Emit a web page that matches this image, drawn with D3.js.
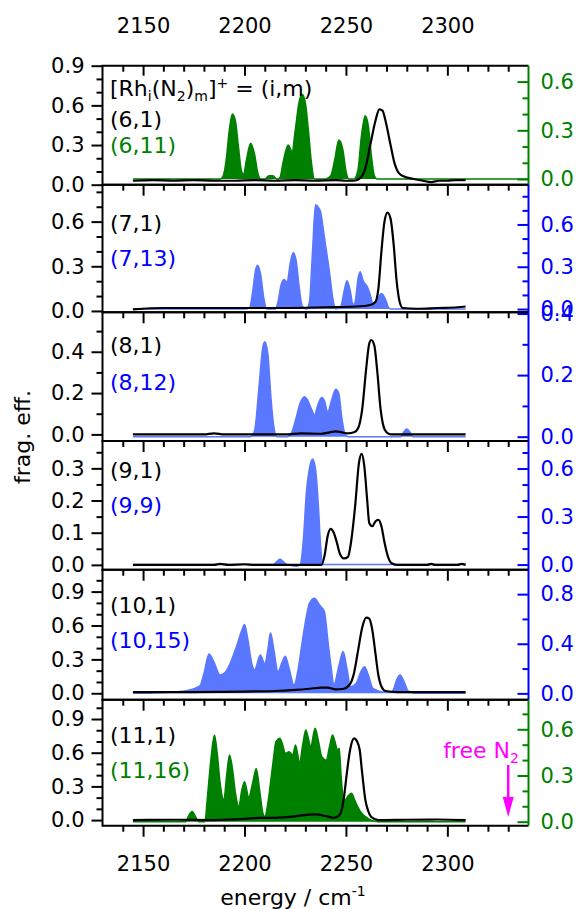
<!DOCTYPE html>
<html><head><meta charset="utf-8">
<script src="https://cdn.jsdelivr.net/npm/d3@7"></script>
<style>
html,body{margin:0;padding:0;background:#fff;}
svg{display:block;font-family:"DejaVu Sans",sans-serif;}
</style></head>
<body><svg id="c" width="581" height="909"></svg>
<script>
// ---------------- DATA ----------------
const energyTicks = [2150, 2200, 2250, 2300];
const energyDomain = [2130, 2340];

const labelsBlack = ["(6,1)", "(7,1)", "(8,1)", "(9,1)", "(10,1)", "(11,1)"];
const labelsColor = ["(6,11)", "(7,13)", "(8,12)", "(9,9)", "(10,15)", "(11,16)"];

const leftTicks = [[0,0.3,0.6,0.9],[0,0.3,0.6],[0,0.2,0.4],[0,0.1,0.2,0.3],[0,0.3,0.6,0.9],[0,0.3,0.6,0.9]];
const rightTicks = [[0,0.3,0.6],[0,0.3,0.6],[0,0.2,0.4],[0,0.3,0.6],[0,0.4,0.8],[0,0.3,0.6]];

// (6,1) black / (6,11) green
const black6 = [[2145,0.03],[2155,0.035],[2165,0.03],[2175,0.035],[2185,0.03],[2195,0.03],[2205,0.035],[2215,0.03],[2225,0.035],[2235,0.03],[2245,0.035],[2250,0.03],[2254,0.03],[2257,0.05],[2259.5,0.12],[2262,0.3],[2264.5,0.48],[2266.5,0.57],[2268,0.56],[2270,0.45],[2272,0.3],[2274,0.16],[2276,0.09],[2279,0.06],[2283,0.045],[2288,0.03],[2292,0.02],[2296,0.03],[2300,0.03],[2304,0.035],[2309,0.035]];
const color6 = [[2145,0],[2188,0],[2189.5,0.02],[2191,0.12],[2192.5,0.3],[2194,0.40],[2195.5,0.36],[2197,0.2],[2198.5,0.05],[2199.5,0.03],[2201,0.12],[2203,0.22],[2205,0.15],[2206.5,0.04],[2208,0],[2210,0],[2212,0.02],[2214,0.02],[2216,0],[2217.5,0.01],[2219,0.1],[2221.5,0.21],[2223.5,0.17],[2225,0.3],[2227,0.48],[2228.5,0.52],[2230,0.47],[2231.5,0.3],[2233,0.1],[2234.5,0],[2240,0],[2242.5,0.02],[2244.5,0.12],[2246.5,0.24],[2248.5,0.18],[2250,0.05],[2251.5,0],[2254,0],[2256,0.06],[2257.5,0.25],[2259.5,0.39],[2261,0.33],[2262.5,0.15],[2264,0.02],[2265.5,0],[2340,0]];

// (7,1) black / (7,13) blue
const black7 = [[2145,0.01],[2160,0.02],[2180,0.02],[2200,0.02],[2220,0.02],[2240,0.025],[2255,0.03],[2262,0.04],[2264.5,0.06],[2266,0.15],[2267.5,0.4],[2269,0.6],[2270.5,0.66],[2272,0.62],[2273.5,0.45],[2275,0.2],[2276.5,0.06],[2278,0.02],[2285,0.015],[2295,0.02],[2305,0.025],[2309,0.03]];
const color7 = [[2145,0],[2200,0],[2202.5,0.01],[2204,0.12],[2205.5,0.28],[2206.5,0.31],[2208,0.24],[2209.5,0.08],[2211,0],[2215,0],[2216.5,0.05],[2218,0.17],[2219.5,0.21],[2221,0.19],[2222.5,0.32],[2224,0.40],[2225.5,0.34],[2227,0.15],[2228.5,0.02],[2230.5,0],[2232,0.05],[2233.5,0.4],[2235,0.74],[2236.5,0.72],[2237.5,0.69],[2239,0.55],[2240.5,0.4],[2242,0.25],[2243.5,0.08],[2245,0],[2247.5,0.02],[2249,0.12],[2250.5,0.2],[2252,0.14],[2253.5,0.03],[2254.5,0.05],[2256,0.22],[2257,0.265],[2258.5,0.2],[2260.5,0.16],[2262,0.1],[2263.5,0.03],[2265,0.06],[2267.5,0.11],[2269.5,0.07],[2271,0.01],[2272,0],[2309,0]];

// (8,1) black / (8,12) blue
const black8 = [[2145,0],[2180,0],[2185,0.005],[2190,0],[2220,0],[2228,0.005],[2238,0.003],[2242,0.01],[2245,0.015],[2248,0.01],[2251,0.005],[2254,0.01],[2256,0.03],[2258,0.12],[2260,0.32],[2261.5,0.44],[2262.5,0.457],[2264,0.43],[2265.5,0.3],[2267,0.13],[2268.5,0.04],[2270,0.01],[2272,0],[2309,0]];
const color8 = [[2145,0],[2203,0],[2205,0.02],[2207,0.15],[2209,0.29],[2210,0.308],[2211.5,0.27],[2213,0.13],[2214.5,0.03],[2216,0],[2221,0],[2223,0.01],[2225,0.05],[2227.5,0.11],[2229.5,0.13],[2231,0.12],[2233,0.09],[2234.5,0.07],[2236,0.1],[2238,0.127],[2239.5,0.115],[2241,0.08],[2243,0.12],[2245,0.154],[2246.5,0.14],[2248,0.06],[2249.5,0.01],[2251,0],[2277,0],[2278.5,0.015],[2280,0.025],[2281.5,0.015],[2283,0],[2309,0]];

// (9,1) black / (9,9) blue
const black9 = [[2145,0],[2185,0],[2188,0.003],[2192,0],[2200,0.002],[2205,0],[2238,0],[2239.5,0.03],[2241,0.09],[2242.5,0.112],[2244,0.1],[2245.5,0.07],[2247,0.035],[2249,0.02],[2251,0.025],[2252.5,0.07],[2254.5,0.18],[2256.5,0.32],[2257.8,0.345],[2259,0.31],[2260.5,0.2],[2261.5,0.13],[2263,0.12],[2264.5,0.135],[2266,0.14],[2267.5,0.12],[2269,0.07],[2270.5,0.03],[2272.5,0.005],[2275,0],[2290,0],[2292,0.003],[2294,0],[2305,0],[2307,0.003],[2309,0]];
const color9 = [[2145,0],[2214,0],[2216,0.02],[2217.5,0.033],[2219,0.02],[2221,0],[2226,-0.01],[2227.5,0],[2229,0.15],[2230.5,0.45],[2232,0.6],[2233.5,0.66],[2235,0.6],[2236.5,0.35],[2237.5,0.12],[2238.5,0],[2309,0]];

// (10,1) black / (10,15) blue
const black10 = [[2145,0.01],[2170,0.01],[2200,0.015],[2215,0.02],[2225,0.03],[2232,0.04],[2238,0.05],[2241,0.05],[2245,0.035],[2249,0.04],[2252,0.08],[2254,0.18],[2256,0.38],[2258,0.58],[2260,0.67],[2261.5,0.66],[2263,0.56],[2264.5,0.36],[2266,0.16],[2267.5,0.06],[2269.5,0.02],[2275,0.01],[2309,0.01]];
const color10 = [[2145,0],[2152,0],[2162,0.01],[2170.6,0.02],[2178,0.06],[2180,0.16],[2182.5,0.317],[2185,0.25],[2188,0.148],[2190.5,0.17],[2192.6,0.23],[2196.3,0.39],[2198.5,0.5],[2200,0.556],[2201.5,0.45],[2203.6,0.24],[2205,0.19],[2207.8,0.31],[2210,0.24],[2211.5,0.35],[2212.8,0.489],[2214.5,0.35],[2216.5,0.175],[2218.5,0.25],[2220.1,0.30],[2222,0.2],[2224.4,0.067],[2226.5,0.2],[2228.4,0.41],[2230.5,0.62],[2232,0.726],[2234.5,0.766],[2237,0.712],[2239.4,0.658],[2241.2,0.41],[2242.8,0.2],[2244,0.067],[2246.5,0.22],[2248.6,0.337],[2250.5,0.2],[2252.3,0.053],[2255,0.08],[2257.5,0.18],[2259.2,0.215],[2261,0.15],[2263.3,0.04],[2266,0.02],[2269.7,0.01],[2272,0.01],[2273.4,0.03],[2275,0.11],[2276.7,0.148],[2278.5,0.1],[2280.7,0.02],[2284.4,0],[2309,0]];

// (11,1) black / (11,16) green
const black11 = [[2145,0],[2165,0.003],[2185,0.0],[2200,0.01],[2207,0.02],[2215,0.02],[2223.8,0.03],[2229.3,0.045],[2234.8,0.05],[2240.3,0.035],[2244,0.02],[2246.5,0.04],[2247.7,0.075],[2249,0.2],[2250.4,0.41],[2252,0.62],[2254,0.728],[2255.5,0.7],[2256.8,0.624],[2258,0.42],[2259.6,0.178],[2261,0.08],[2262.4,0.03],[2266,0.0],[2280,0.003],[2295,0.005],[2309,0]];
const color11 = [[2145,0],[2171,0],[2172.5,0.04],[2174.2,0.066],[2176,0.03],[2177.5,0],[2180.5,0],[2181.6,0.14],[2183.4,0.4],[2185.2,0.563],[2186.5,0.45],[2188,0.25],[2189.8,0.14],[2191.2,0.3],[2192.6,0.433],[2194,0.35],[2195.6,0.18],[2197.2,0.097],[2198.6,0.2],[2200,0.26],[2202.1,0.16],[2204,0.25],[2205.8,0.346],[2207.5,0.2],[2209.1,0.054],[2210,0.033],[2211.5,0.12],[2212.8,0.25],[2214.2,0.4],[2215.5,0.52],[2217.4,0.541],[2218.8,0.5],[2220.1,0.444],[2222,0.454],[2223.8,0.433],[2225.1,0.498],[2226.2,0.44],[2227.1,0.38],[2228.7,0.5],[2230.2,0.596],[2231.5,0.54],[2232.6,0.487],[2234.8,0.606],[2236.5,0.52],[2238.1,0.422],[2240.3,0.4],[2241.8,0.48],[2243.4,0.563],[2244.6,0.52],[2245.8,0.466],[2246.7,0.476],[2247.6,0.3],[2248.6,0.163],[2249.5,0.14],[2251.2,0.17],[2252.8,0.184],[2254.3,0.14],[2255.8,0.097],[2257.5,0.06],[2259.6,0.033],[2262.4,0.01],[2266,0],[2309,0]];

const blackSeries = [black6, black7, black8, black9, black10, black11];
const colorSeries = [color6, color7, color8, color9, color10, color11];

// ---------------- LAYOUT / STYLE ----------------
const GREEN = "#008000", BLUE = "#0000ff", BLUEFILL = "#5a78ff", MAGENTA = "#ff00ff";
const seriesColor = [GREEN, BLUE, BLUE, BLUE, BLUE, GREEN];
const seriesFill = [GREEN, BLUEFILL, BLUEFILL, BLUEFILL, BLUEFILL, GREEN];
const X0 = 102.5, X1 = 528.5;
const panelY = [[65.7,184.7],[184.7,312.3],[312.3,441],[441,569.7],[569.7,699.7],[699.7,825.7]];
const leftDom = [[0,0.9],[-0.009,0.848],[-0.032,0.591],[-0.015,0.385],[-0.057,1.094],[-0.05,1.072]];
const rightDom = [[-0.035,0.698],[-0.023,0.882],[-0.014,0.404],[-0.032,0.772],[-0.051,0.997],[-0.026,0.792]];
const leftMinor = [0.1,0.1,0.1,0.05,0.1,0.1];
const rightMinor = [0.1,0.1,0.1,0.1,0.2,0.1];
const labY = [[119,145],[223,258],[345,382],[470,505],[605,640],[735,770]];
const FS = 21, LFS = 22, SFS = 14;

const svg = d3.select("#c");
const x = d3.scaleLinear().domain(energyDomain).range([X0, X1]);
const fmt = d3.format(".1f");

function minorVals(dom, step, majors) {
  const out = [];
  const start = Math.ceil(dom[0] / step - 1e-9), end = Math.floor(dom[1] / step + 1e-9);
  for (let k = start; k <= end; k++) {
    const v = +(k * step).toFixed(4);
    if (!majors.some(m => Math.abs(m - v) < 1e-6)) out.push(v);
  }
  return out;
}
const xMinorVals = minorVals(energyDomain, 10, energyTicks).filter(v => v > 2130 && v < 2340);

function styleAxis(sel, color) {
  sel.select(".domain").remove();
  sel.selectAll("line").attr("stroke", color).attr("stroke-width", 2);
  sel.selectAll("text").attr("font-size", FS).attr("fill", color).attr("font-family", "DejaVu Sans");
}

panelY.forEach((py, i) => {
  const [top, bot] = py;
  const yl = d3.scaleLinear().domain(leftDom[i]).range([bot, top]);
  const yr = d3.scaleLinear().domain(rightDom[i]).range([bot, top]);
  const g = svg.append("g");
  const clipId = "clip" + i;
  svg.append("clipPath").attr("id", clipId).append("rect")
    .attr("x", X0).attr("y", top).attr("width", X1 - X0).attr("height", bot - top);
  const pg = g.append("g").attr("clip-path", `url(#${clipId})`);

  const area = d3.area().x(d => x(d[0])).y0(yr(0)).y1(d => yr(d[1])).curve(d3.curveMonotoneX);
  const line = d3.line().x(d => x(d[0])).y(d => yr(d[1])).curve(d3.curveMonotoneX);
  pg.append("path").datum(colorSeries[i]).attr("d", area).attr("fill", seriesFill[i]);
  pg.append("path").datum(colorSeries[i]).attr("d", line).attr("fill", "none")
    .attr("stroke", seriesFill[i]).attr("stroke-width", 1.5);
  const lineB = d3.line().x(d => x(d[0])).y(d => yl(d[1])).curve(d3.curveMonotoneX);
  pg.append("path").datum(blackSeries[i]).attr("d", lineB).attr("fill", "none")
    .attr("stroke", "#000").attr("stroke-width", 2.2).attr("stroke-linejoin", "round");

  // left axis
  styleAxis(g.append("g").attr("transform", `translate(${X0},0)`)
    .call(d3.axisLeft(yl).tickValues(leftTicks[i]).tickFormat(fmt).tickSize(11).tickPadding(7)), "#000");
  styleAxis(g.append("g").attr("transform", `translate(${X0},0)`)
    .call(d3.axisLeft(yl).tickValues(minorVals(leftDom[i], leftMinor[i], leftTicks[i])).tickFormat("").tickSize(6)), "#000");

  // right axis
  styleAxis(g.append("g").attr("transform", `translate(${X1},0)`)
    .call(d3.axisRight(yr).tickValues(rightTicks[i]).tickFormat(fmt).tickSize(-11).tickPadding(12)), seriesColor[i]);
  styleAxis(g.append("g").attr("transform", `translate(${X1},0)`)
    .call(d3.axisRight(yr).tickValues(minorVals(rightDom[i], rightMinor[i], rightTicks[i])).tickFormat("").tickSize(-6)), seriesColor[i]);

  // bottom ticks
  styleAxis(g.append("g").attr("transform", `translate(0,${bot})`)
    .call(d3.axisBottom(x).tickValues(energyTicks).tickSize(11).tickPadding(19)
      .tickFormat(i === 5 ? d3.format("d") : "")), "#000");
  styleAxis(g.append("g").attr("transform", `translate(0,${bot})`)
    .call(d3.axisBottom(x).tickValues(xMinorVals).tickSize(6).tickFormat("")), "#000");

  if (i === 0) {
    styleAxis(g.append("g").attr("transform", `translate(0,${top})`)
      .call(d3.axisTop(x).tickValues(energyTicks).tickSize(-10).tickPadding(33).tickFormat(d3.format("d"))), "#000");
    styleAxis(g.append("g").attr("transform", `translate(0,${top})`)
      .call(d3.axisTop(x).tickValues(xMinorVals).tickSize(-6).tickFormat("")), "#000");
  }

  // frame
  g.append("path").attr("d", `M${X1},${top}H${X0}V${bot}H${X1}`)
    .attr("fill", "none").attr("stroke", "#000").attr("stroke-width", 2);
  g.append("line").attr("x1", X1).attr("x2", X1).attr("y1", top).attr("y2", bot)
    .attr("stroke", seriesColor[i]).attr("stroke-width", 2);

  // labels
  g.append("text").attr("x", 110).attr("y", labY[i][0]).attr("dy", "0.35em")
    .attr("font-size", LFS).attr("fill", "#000").text(labelsBlack[i]);
  g.append("text").attr("x", 110).attr("y", labY[i][1]).attr("dy", "0.35em")
    .attr("font-size", LFS).attr("fill", seriesColor[i]).text(labelsColor[i]);
});

// formula in first panel
const t = svg.append("text").attr("x", 110).attr("y", 88).attr("dy", "0.35em").attr("font-size", LFS);
t.append("tspan").text("[Rh");
t.append("tspan").attr("font-size", SFS).attr("dy", 5).text("i");
t.append("tspan").attr("dy", -5).text("(N");
t.append("tspan").attr("font-size", SFS).attr("dy", 5).text("2");
t.append("tspan").attr("dy", -5).text(")");
t.append("tspan").attr("font-size", SFS).attr("dy", 5).text("m");
t.append("tspan").attr("dy", -5).text("]");
t.append("tspan").attr("font-size", SFS).attr("dy", -8).text("+");
t.append("tspan").attr("dy", 8).text(" = (i,m)");

// free N2 annotation
const freeN2 = 2330;
const fn = svg.append("text").attr("x", 481).attr("y", 750).attr("dy", "0.35em")
  .attr("text-anchor", "middle").attr("font-size", LFS).attr("fill", MAGENTA);
fn.append("tspan").text("free N");
fn.append("tspan").attr("font-size", SFS).attr("dy", 5).text("2");
svg.append("line").attr("x1", x(freeN2)).attr("x2", x(freeN2)).attr("y1", 765).attr("y2", 800)
  .attr("stroke", MAGENTA).attr("stroke-width", 2.5);
svg.append("path").attr("d", `M${x(freeN2) - 5.5},797 L${x(freeN2) + 5.5},797 L${x(freeN2)},817 Z`).attr("fill", MAGENTA);

// axis titles
const xt = svg.append("text").attr("x", 293).attr("y", 897).attr("dy", "0.35em")
  .attr("text-anchor", "middle").attr("font-size", LFS);
xt.append("tspan").text("energy / cm");
xt.append("tspan").attr("font-size", SFS).attr("dy", -9).text("-1");

svg.append("text").attr("transform", "translate(22,437) rotate(-90)").attr("dy", "0.35em")
  .attr("text-anchor", "middle").attr("font-size", LFS).text("frag. eff.");
</script></body></html>
